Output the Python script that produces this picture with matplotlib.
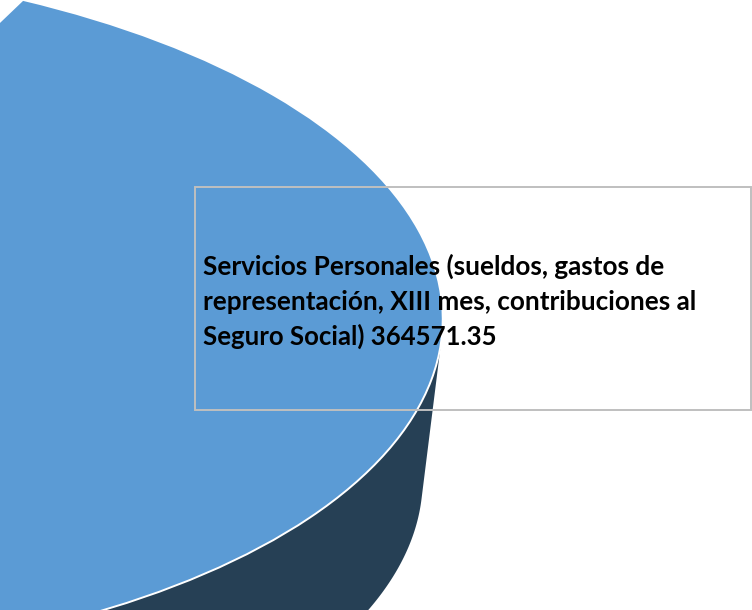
import numpy as np
import matplotlib
matplotlib.use("Agg")
import matplotlib.pyplot as plt
from matplotlib.patches import Rectangle, Polygon
from matplotlib.transforms import Affine2D

# Data
slice_value = 364571.35
rest_value = 300000.0  # estimated: the remainder of the pie lies off the picture
label_lines = ["Servicios Personales (sueldos, gastos de",
               "representación, XIII mes, contribuciones al",
               "Seguro Social) 364571.35"]

# Style / layout (pixels)
BLUE = "#5B9BD5"
DARK = "#264055"
BOX = "#BFBFBF"
centre = (-304.38, 312.6)
axes_m = np.array([[747.0, 13.44], [0.0, 351.02]])
depth = np.array([-20.0, 160.0])
start_deg = -63.0
tangent_deg = 4.39

fig = plt.figure(figsize=(7.52, 6.10), dpi=100)
ax = fig.add_axes([0, 0, 1, 1])

wedges, _ = ax.pie([slice_value, rest_value], startangle=start_deg,
                   colors=[BLUE, "none"], radius=1.0, center=(0, 0),
                   wedgeprops=dict(edgecolor="white", linewidth=1.4))
ax.set_aspect("auto")
ax.set_xlim(0, 752)
ax.set_ylim(610, 0)
ax.axis("off")

tf = Affine2D(np.array([[axes_m[0, 0], axes_m[0, 1], centre[0]],
                        [axes_m[1, 0], axes_m[1, 1], centre[1]],
                        [0, 0, 1]]))
wedges[0].set_transform(tf + ax.transData)
wedges[0].set_zorder(3)
wedges[1].set_visible(False)

# Extruded side of the slice
end_deg = start_deg + 360.0 * slice_value / (slice_value + rest_value)
th = np.radians(np.linspace(tangent_deg, end_deg, 300))
arc = (np.array(centre)[:, None] + axes_m @ np.vstack([np.cos(th), np.sin(th)])).T
ax.add_patch(Polygon(np.vstack([arc, (arc + depth)[::-1]]), closed=True,
                     facecolor=DARK, edgecolor="none", zorder=2))

# Label box
ax.add_patch(Rectangle((195, 187), 556, 223, facecolor="none", edgecolor=BOX,
                       linewidth=1.4, zorder=4))
for line, y, size in zip(label_lines, (275, 310, 345), (18.84, 18.84, 18.5)):
    ax.text(203, y, line, family="Lato", weight="bold", fontsize=size,
            color="black", va="baseline", ha="left", zorder=5)

fig.savefig("out.png", dpi=100)
